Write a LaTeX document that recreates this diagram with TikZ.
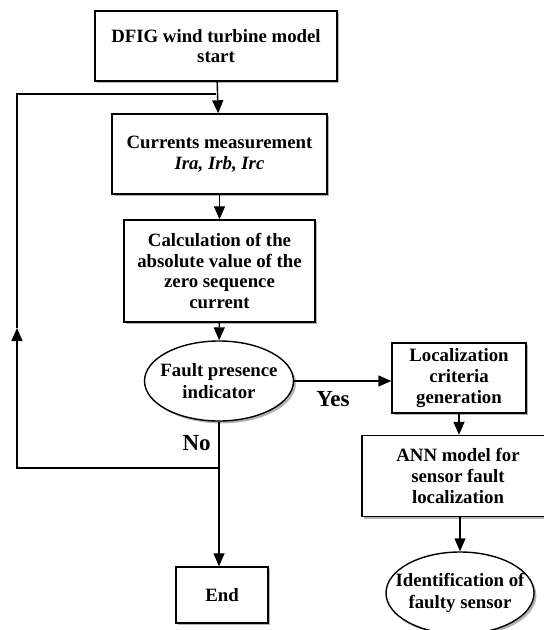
\documentclass[tikz,border=0pt]{standalone}
\usepackage{fontspec}
\setmainfont{Liberation Serif}
\usetikzlibrary{arrows.meta,shapes.geometric,shadows}

\begin{document}
\begin{tikzpicture}[x=0.5pt, y=-0.5pt,
		font=\fontsize{9.4}{10.4}\selectfont\bfseries,
		line width=0.7pt,
		shade/.style={drop shadow={shadow xshift=1.2pt, shadow yshift=-1.2pt, fill=black!50, opacity=.6}},
		block/.style={draw, fill=white, rectangle, align=center, inner sep=0pt, shade},
		oval/.style={draw, fill=white, ellipse, align=center, inner sep=-8pt, shade},
		arr/.style={-{Triangle[length=6.5pt,width=5.5pt]}},
		lbl/.style={font=\fontsize{11.5}{13}\selectfont\bfseries}]
	
	\def\xloop{17} %linke Rücklaufleitung
	\def\yloop{468}
	
	\useasboundingbox (0,0) rectangle (544,630);
	
	\node[block, minimum width=121pt, minimum height=35pt] (start) at (216,46) {DFIG wind turbine model\\start};
	\node[block, minimum width=107.5pt, minimum height=40pt] (meas) at (219.5,154) {Currents measurement\\\textit{Ira, Irb, Irc}};
	\node[block, minimum width=95.5pt, minimum height=51pt] (calc) at (219.5,271) {Calculation of the\\absolute value of the\\zero sequence\\current};
	\node[oval, minimum width=74.5pt, minimum height=40pt] (fpi) at (219,381) {Fault presence\\[1pt]indicator};
	\node[block, minimum width=46pt, minimum height=28pt] (end) at (222,595) {End};
	
	\node[block, minimum width=67pt, minimum height=35pt] (loc) at (459,378) {Localization\\criteria\\generation};
	\node[block, minimum width=96pt, minimum height=40.5pt] (ann) at (458,476) {ANN model for\\sensor fault\\localization};
	\node[oval, minimum width=74pt, minimum height=41pt] (ident) at (460,593) {Identification of\\[1pt]faulty sensor};
	
	\draw[arr] (start) -- (meas);
	\draw[arr] (meas) -- (calc);
	\draw[arr] (calc) -- (fpi);
	\draw[arr] (fpi.south) -- (fpi.south |- end.north);
	\draw[arr] (fpi.east) -- (fpi.east -| loc.west);
	\draw[arr] (loc.south) -- (loc.south |- ann.north);
	\draw[arr] (ann.south -| ident) -- (ident);
	
	%Rücklauf bei "No"
	\coordinate (nojoin) at (fpi.south |- 0,\yloop);
	\coordinate (loopbl) at (\xloop,\yloop);
	\coordinate (looparr) at (\xloop,328);
	\coordinate (looptl) at (\xloop,94);
	\draw[arr] (nojoin) -- (loopbl) -- (looparr);
	\draw (looparr) -- (looptl) -- (looptl -| start.south);
	
	\node[lbl, anchor=east] (no) at (218,443) {No}; %Beschriftungen
	\node[lbl] (yes) at (333,399) {Yes};
	
\end{tikzpicture}
\end{document}
